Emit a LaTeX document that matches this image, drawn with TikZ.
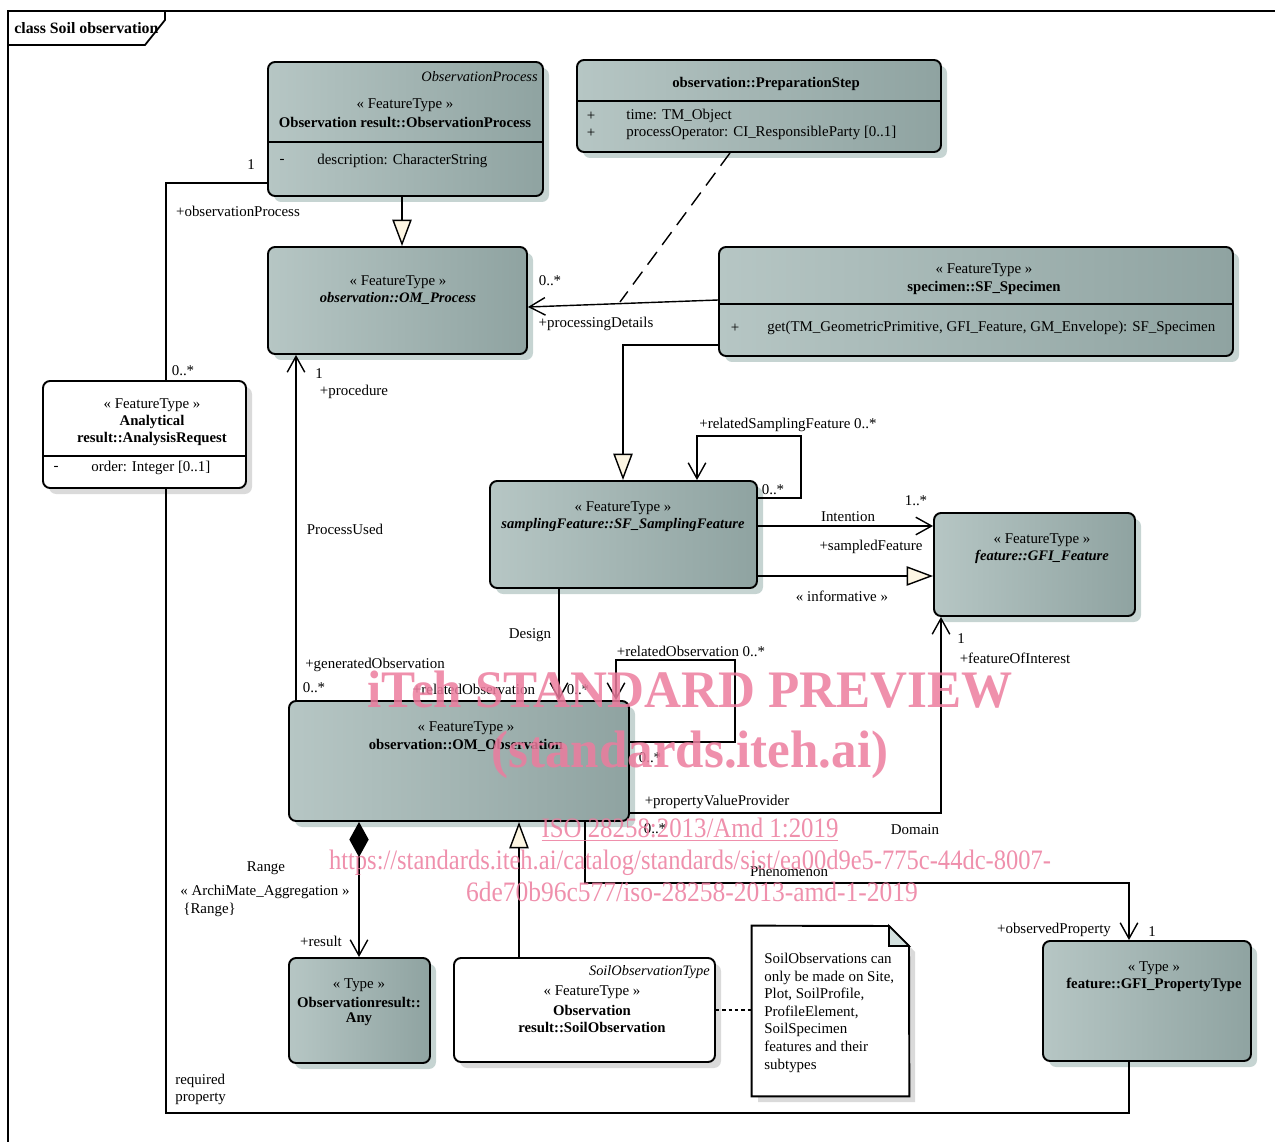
\documentclass[tikz,border=0pt]{standalone}
\usepackage{fontspec}
\setmainfont{Liberation Serif}
\usepackage{graphicx}
\usetikzlibrary{arrows.meta,shadows,fit,positioning}
\definecolor{clsL}{HTML}{B6C6C4}
\definecolor{clsR}{HTML}{8FA3A1}
\definecolor{shT}{HTML}{C6D4D2}
\definecolor{shW}{HTML}{DADADA}
\definecolor{genF}{HTML}{FDF6E3}
\definecolor{foldC}{HTML}{D3E1DF}
\definecolor{wmC}{HTML}{EC7C9E}
\begin{document}
\begin{tikzpicture}[x=0.02cm, y=-0.02cm, font=\fontsize{8.5}{10}\selectfont,
    every node/.style={inner sep=0},
    bf/.style={font=\fontsize{8.4}{10}\selectfont\bfseries},
    bfi/.style={font=\fontsize{8.3}{10}\selectfont\bfseries\itshape},
    it/.style={font=\fontsize{8.2}{10}\selectfont\itshape},
    cls/.style={draw, line width=1.1pt, rounded corners=4pt, left color=clsL, right color=clsR,
      drop shadow={shadow xshift=0.12cm, shadow yshift=-0.12cm, fill=shT, opacity=1}},
    wcls/.style={draw, line width=1.1pt, rounded corners=4pt, fill=white,
      drop shadow={shadow xshift=0.12cm, shadow yshift=-0.12cm, fill=shW, opacity=1}},
    sep/.style={line width=1.1pt},
    con/.style={line width=0.8pt},
    nav/.style={con, -{Straight Barb[length=9pt,width=10pt]}},
    gen/.style={con, -{Triangle[length=15pt,width=11pt,fill=genF]}},
    comp/.style={con, {Diamond[length=20pt,width=11pt]}-{Straight Barb[length=9pt,width=10pt]}},
    wm/.style={text=wmC, opacity=0.85, anchor=base}]
    \useasboundingbox (0,0) rectangle (1275,1142);

    % frame
    \draw[line width=1pt] (8,1160) -- (8,11) -- (1290,11);
    \draw[line width=1pt] (8,45) -- (145,45) -- (165,20) -- (165,11);
    \node[anchor=west, font=\fontsize{9}{10}\selectfont\bfseries] (title) at (14,28) {class Soil observation};

    % classes
    \node[cls, fit={(268,62) (543,196)}] (op) {};
    \draw[sep] (op.west |- 0,142) -- (op.east |- 0,142);
    \node[anchor=east, it] (op1) at (538,77) {ObservationProcess};
    \node (op2) at (405,105) {« FeatureType »};
    \node[bf] (op3) at (405,122) {Observation result::ObservationProcess};
    \node (op4) at (282,161) {-};
    \node[anchor=west] (op5) at (317,161) {description: CharacterString};

    \node[cls, fit={(577,60) (941,152)}] (ps) {};
    \draw[sep] (ps.west |- 0,101) -- (ps.east |- 0,101);
    \node[bf] (ps1) at (766,84) {observation::PreparationStep};
    \node (ps2) at (591,116) {+};
    \node[anchor=west] (ps3) at (626,116) {time: TM\_Object};
    \node (ps4) at (591,133) {+};
    \node[anchor=west] (ps5) at (626,133) {processOperator: CI\_ResponsibleParty [0..1]};

    \node[cls, fit={(268,247) (527,354)}] (omp) {};
    \node (omp1) at (398,282) {« FeatureType »};
    \node[bfi] (omp2) at (398,298) {observation::OM\_Process};

    \node[cls, fit={(719,247) (1233,356)}] (spec) {};
    \draw[sep] (spec.west |- 0,304) -- (spec.east |- 0,304);
    \node (spec1) at (984,270) {« FeatureType »};
    \node[bf] (spec2) at (984,288) {specimen::SF\_Specimen};
    \node (spec3) at (735,328) {+};
    \node[anchor=west] (spec4) at (767,328) {get(TM\_GeometricPrimitive, GFI\_Feature, GM\_Envelope): SF\_Specimen};

    \node[wcls, fit={(43,381) (246,488)}] (ar) {};
    \draw[sep] (ar.west |- 0,456) -- (ar.east |- 0,456);
    \node (ar1) at (152,405) {« FeatureType »};
    \node[bf] (ar2) at (152,422) {Analytical};
    \node[bf] (ar3) at (152,439) {result::AnalysisRequest};
    \node (ar4) at (56,468) {-};
    \node[anchor=west] (ar5) at (91,468) {order: Integer [0..1]};

    \node[cls, fit={(490,481) (757,588)}] (sf) {};
    \node (sf1) at (623,508) {« FeatureType »};
    \node[bfi] (sf2) at (623,525) {samplingFeature::SF\_SamplingFeature};

    \node[cls, fit={(934,513) (1135,616)}] (gfi) {};
    \node (gfi1) at (1042,540) {« FeatureType »};
    \node[bfi] (gfi2) at (1042,557) {feature::GFI\_Feature};

    \node[cls, fit={(289,701) (629,821)}] (omo) {};
    \node (omo1) at (466,728) {« FeatureType »};
    \node[bf] (omo2) at (466,745) {observation::OM\_Observation};

    \node[cls, fit={(289,958) (430,1063)}] (any) {};
    \node (any1) at (359,985) {« Type »};
    \node[bf] (any2) at (359,1002) {Observationresult::};
    \node[bf] (any3) at (359,1019) {Any};

    \node[wcls, fit={(454,958) (715,1062)}] (so) {};
    \node[anchor=east, it] (so1) at (710,972) {SoilObservationType};
    \node (so2) at (592,992) {« FeatureType »};
    \node[bf] (so3) at (592,1010) {Observation};
    \node[bf] (so4) at (592,1027) {result::SoilObservation};

    \node[cls, fit={(1043,941) (1251,1061)}] (pty) {};
    \node (pty1) at (1154,968) {« Type »};
    \node[bf] (pty2) at (1154,985) {feature::GFI\_PropertyType};

    % note
    \node[fit={(752,926) (909,1096)}] (note) {};
    \fill[shW] (758,932) -- (895,932) -- (915,952) -- (915,1102) -- (758,1102) -- cycle;
    \draw[line width=1.1pt, fill=white] (note.north west) -- (889,926) -- (909,946) -- (note.south east) -- (note.south west) -- cycle;
    \draw[line width=1pt, fill=foldC] (889,926) -- (889,946) -- (909,946) -- cycle;
    \node[anchor=north west, align=left] (notet) at (764,953) {SoilObservations can\\only be made on Site,\\Plot, SoilProfile,\\ProfileElement,\\SoilSpecimen\\features and their\\subtypes};

    % connectors
    \draw[gen] (402,0 |- op.south) -- (402,0 |- omp.north);
    \coordinate (pd) at (620,302);
    \draw[con, dash pattern=on 9pt off 5pt] (730,0 |- ps.south) -- (pd);
    \draw[nav] (spec.west |- 0,300) -- (omp.east |- 0,307);
    \draw[gen] (spec.west |- 0,345) -| (623,0 |- sf.north);
    \draw[nav] (sf.east |- 0,498) -| (801,436) -| (697,0 |- sf.north);
    \draw[nav] (sf.east |- 0,526) -- (gfi.west |- 0,526);
    \draw[gen] (sf.east |- 0,576) -- (gfi.west |- 0,576);
    \draw[nav] (559,0 |- sf.south) -- (559,0 |- omo.north);
    \draw[nav] (omo.east |- 0,742) -| (735,660) -| (616,0 |- omo.north);
    \draw[nav] (296,0 |- omo.north) -- (296,0 |- omp.south);
    \draw[nav] (omo.east |- 0,813) -| (941,0 |- gfi.south);
    \draw[nav] (585,0 |- omo.south) |- (1129,883) -- (1129,0 |- pty.north);
    \draw[comp] (359,0 |- omo.south) -- (359,0 |- any.north);
    \draw[gen] (519,0 |- so.north) -- (519,0 |- omo.south);
    \draw[con, dash pattern=on 2pt off 1.6pt] (so.east |- 0,1010) -- (note.west |- 0,1010);
    \draw[con] (op.west |- 0,183) -| (166,0 |- ar.north);
    \draw[con] (166,0 |- ar.south) |- (1129,1113) -- (1129,0 |- pty.south);

    % connector labels
    \node (l1) at (251,165) {1};
    \node (l2) at (238,211) {+observationProcess};
    \node (l3) at (183,371) {0..*};
    \node (l4) at (550,281) {0..*};
    \node (l5) at (596,324) {+processingDetails};
    \node (l6) at (788,425) {+relatedSamplingFeature 0..*};
    \node (l7) at (773,490) {0..*};
    \node (l8) at (848,517) {Intention};
    \node (l9) at (916,501) {1..*};
    \node (l10) at (871,547) {+sampledFeature};
    \node (l11) at (842,596) {« informative »};
    \node (l12) at (530,635) {Design};
    \node (l13) at (474,689) {+relatedObservation};
    \node (l14) at (578,690) {0..*};
    \node (l15) at (691,651) {+relatedObservation 0..*};
    \node (l16) at (650,758) {0..*};
    \node (l17) at (319,374) {1};
    \node (l18) at (354,392) {+procedure};
    \node (l19) at (345,529) {ProcessUsed};
    \node (l20) at (375,665) {+generatedObservation};
    \node (l21) at (314,688) {0..*};
    \node (l22) at (717,802) {+propertyValueProvider};
    \node (l23) at (961,639) {1};
    \node (l24) at (1015,658) {+featureOfInterest};
    \node (l25) at (655,829) {0..*};
    \node (l26) at (915,830) {Domain};
    \node (l27) at (789,871) {Phenomenon};
    \node (l28) at (1054,930) {+observedProperty};
    \node (l29) at (1152,932) {1};
    \node (l30) at (266,868) {Range};
    \node (l31) at (265,892) {« ArchiMate\_Aggregation »};
    \node[anchor=west] (l32) at (183,910) {\{Range\}};
    \node (l33) at (321,941) {+result};
    \node[anchor=west] (l34) at (175,1081) {required};
    \node[anchor=west] (l35) at (175,1099) {property};

    % watermark
    \node[wm] (wm1) at (690,707) {\resizebox{12.9cm}{\height}{\fontsize{30}{30}\selectfont\bfseries iTeh STANDARD PREVIEW}};
    \node[wm] (wm2) at (690,767) {\resizebox{7.94cm}{\height}{\fontsize{30}{30}\selectfont\bfseries (standards.iteh.ai)}};
    \node[wm] (wm3) at (690,837) {\resizebox{5.94cm}{\height}{\fontsize{16}{16}\selectfont\underline{ISO 28258:2013/Amd 1:2019}}};
    \node[wm] (wm4) at (690,869) {\resizebox{14.44cm}{\height}{\fontsize{16}{16}\selectfont https://standards.iteh.ai/catalog/standards/sist/ea00d9e5-775c-44dc-8007-}};
    \node[wm] (wm5) at (692,901) {\resizebox{9.04cm}{\height}{\fontsize{16}{16}\selectfont 6de70b96c577/iso-28258-2013-amd-1-2019}};
\end{tikzpicture}
\end{document}
